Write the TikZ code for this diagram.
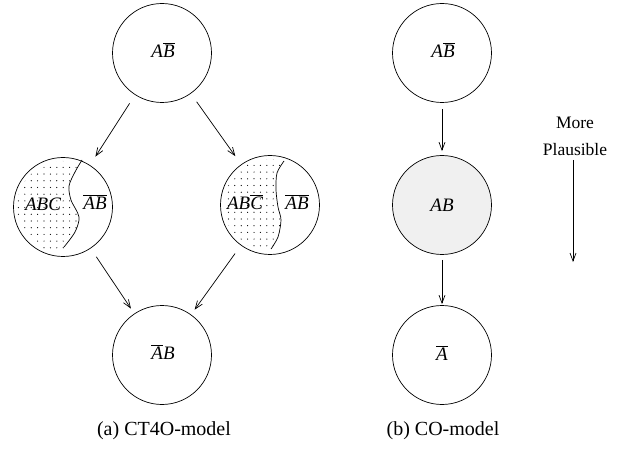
\documentclass[tikz,border=0pt]{standalone}
\usepackage{fontspec}
\setmainfont{Liberation Serif}
\usetikzlibrary{arrows.meta}
% italic letters with a bar over them
\newcommand{\barred}[1]{$\overline{\mbox{\itshape #1}}$}
\newcommand{\itl}[1]{{\itshape #1}}
\tikzset{
  world/.style={circle, draw, minimum size=99pt, inner sep=0pt, line width=0.7pt},
  lbl/.style={font=\fontsize{19}{21}\selectfont, inner sep=0pt},
  subcap/.style={font=\fontsize{20}{22}\selectfont, inner sep=0pt},
  side/.style={font=\fontsize{17.5}{20}\selectfont, inner sep=0pt},
  arr/.style={-{Straight Barb[length=8pt,width=6pt]}, line width=0.7pt},
  sep/.style={line width=0.7pt},
  dot/.style={fill=black}
}
\begin{document}
\begin{tikzpicture}[x=1pt,y=-1pt]
\useasboundingbox (0,0) rectangle (621,449);

% ---- (a) CT4O-model ----
\node[world] (t)  at (162,53)  {};
\node[world] (ml) at (63,207)  {};
\node[world] (mr) at (270,205) {};
\node[world] (b)  at (162,355) {};

% dotted part of the left split world
\begin{scope}
  \clip (63,207) circle [radius=46pt];
  \clip plot[smooth] coordinates {(82,160) (75,172) (69,186) (71,200) (79,217) (75,232) (64,247)}
        -- (58,300) -- (-20,300) -- (-20,120) -- (90,120) -- cycle;
  \foreach \i in {0,...,14} \foreach \j in {0,...,16}
    \fill[dot] (12+6.4*\i,154+6.7*\j) circle [radius=0.6pt];
\end{scope}
\draw[sep] plot[smooth] coordinates {(82,160) (75,172) (69,186) (71,200) (79,217) (75,232) (64,247)};

% dotted part of the right split world
\begin{scope}
  \clip (270,205) circle [radius=46pt];
  \clip plot[smooth] coordinates {(284,161) (277,173) (276,190) (278,207) (281,220) (278,237) (271,249)}
        -- (265,300) -- (200,300) -- (200,120) -- (290,120) -- cycle;
  \foreach \i in {0,...,14} \foreach \j in {0,...,16}
    \fill[dot] (222+6.4*\i,152+6.7*\j) circle [radius=0.6pt];
\end{scope}
\draw[sep] plot[smooth] coordinates {(284,161) (277,173) (276,190) (278,207) (281,220) (278,237) (271,249)};

\node[lbl] (tl)  at (163,50)  {\itl{A}\barred{B}};
\node[lbl] (mla) at (43,204)  {\itl{ABC}};
\node[lbl] (mlb) at (95,202)  {\barred{AB}};
\node[lbl] (mra) at (245,202) {\itl{AB}\barred{C}};
\node[lbl] (mrb) at (297,202) {\barred{AB}};
\node[lbl] (bl)  at (163,352) {\barred{A}\itl{B}};

\draw[arr, shorten <=10pt, shorten >=10pt] (t) -- (ml);
\draw[arr, shorten <=10pt, shorten >=10pt] (t) -- (mr);
\draw[arr, shorten <=10pt, shorten >=6pt] (ml) -- (b);
\draw[arr, shorten <=10pt, shorten >=6pt] (mr) -- (b);

\node[subcap] (ca) at (164,431) {(a) CT4O-model};

% ---- (b) CO-model ----
\node[world] (rt) at (442,53)  {};
\node[world, fill=black!6] (rm) at (442,205) {};
\node[world] (rb) at (442,355) {};
\node[lbl] (rtl) at (443,50)  {\itl{A}\barred{B}};
\node[lbl] (rml) at (442,205) {\itl{AB}};
\node[lbl] (rbl) at (442,353) {\barred{A}};

\draw[arr, shorten <=6pt, shorten >=4pt] (rt) -- (rm);
\draw[arr, shorten <=5pt, shorten >=1pt] (rm) -- (rb);

\node[subcap] (cb) at (443,431) {(b) CO-model};

% ---- plausibility scale ----
\node[side] (more)  at (575,123) {More};
\node[side] (plaus) at (575,150) {Plausible};
\coordinate (pa) at (573,160);
\coordinate (pb) at (573,262);
\draw[arr] (pa) -- (pb);
\end{tikzpicture}
\end{document}
